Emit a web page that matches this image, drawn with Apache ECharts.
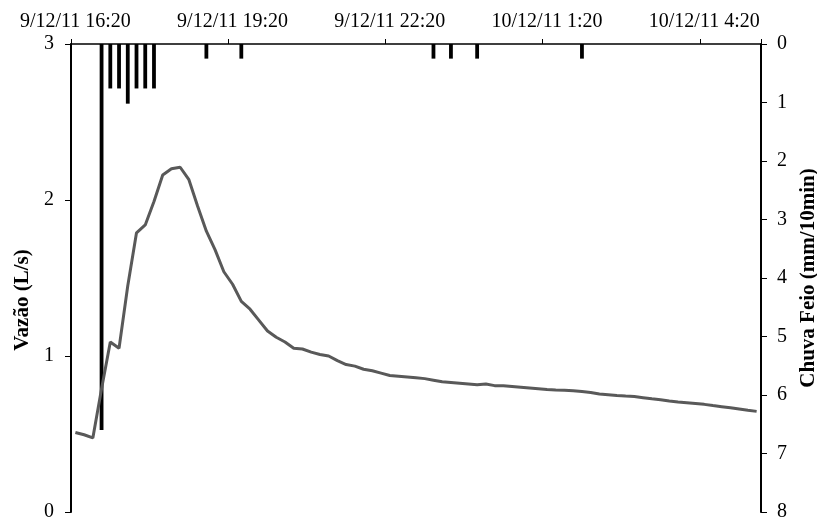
<!DOCTYPE html>
<html>
<head>
<meta charset="utf-8">
<script src="https://cdn.jsdelivr.net/npm/echarts@6/dist/echarts.min.js"></script>
<style>html,body{margin:0;padding:0;background:#fff}#c{width:817px;height:519px}</style>
</head>
<body>
<div id="c"></div>
<script>
var categories = [
"9/12/11 16:20","9/12/11 16:30","9/12/11 16:40","9/12/11 16:50","9/12/11 17:00","9/12/11 17:10",
"9/12/11 17:20","9/12/11 17:30","9/12/11 17:40","9/12/11 17:50","9/12/11 18:00","9/12/11 18:10",
"9/12/11 18:20","9/12/11 18:30","9/12/11 18:40","9/12/11 18:50","9/12/11 19:00","9/12/11 19:10",
"9/12/11 19:20","9/12/11 19:30","9/12/11 19:40","9/12/11 19:50","9/12/11 20:00","9/12/11 20:10",
"9/12/11 20:20","9/12/11 20:30","9/12/11 20:40","9/12/11 20:50","9/12/11 21:00","9/12/11 21:10",
"9/12/11 21:20","9/12/11 21:30","9/12/11 21:40","9/12/11 21:50","9/12/11 22:00","9/12/11 22:10",
"9/12/11 22:20","9/12/11 22:30","9/12/11 22:40","9/12/11 22:50","9/12/11 23:00","9/12/11 23:10",
"9/12/11 23:20","9/12/11 23:30","9/12/11 23:40","9/12/11 23:50","10/12/11 0:00","10/12/11 0:10",
"10/12/11 0:20","10/12/11 0:30","10/12/11 0:40","10/12/11 0:50","10/12/11 1:00","10/12/11 1:10",
"10/12/11 1:20","10/12/11 1:30","10/12/11 1:40","10/12/11 1:50","10/12/11 2:00","10/12/11 2:10",
"10/12/11 2:20","10/12/11 2:30","10/12/11 2:40","10/12/11 2:50","10/12/11 3:00","10/12/11 3:10",
"10/12/11 3:20","10/12/11 3:30","10/12/11 3:40","10/12/11 3:50","10/12/11 4:00","10/12/11 4:10",
"10/12/11 4:20","10/12/11 4:30","10/12/11 4:40","10/12/11 4:50","10/12/11 5:00","10/12/11 5:10",
"10/12/11 5:20"
];

var vazao = [
0.51,0.495,0.475,0.79,1.09,1.05,1.45,1.79,1.84,1.99,2.16,2.20,
2.21,2.13,1.96,1.80,1.68,1.54,1.46,1.35,1.30,1.23,1.16,1.12,
1.09,1.05,1.045,1.025,1.01,1.00,0.97,0.945,0.935,0.915,0.905,0.89,
0.875,0.87,0.865,0.86,0.855,0.845,0.835,0.83,0.825,0.82,0.815,0.82,
0.81,0.81,0.805,0.80,0.795,0.79,0.785,0.782,0.78,0.777,0.772,0.766,
0.757,0.752,0.747,0.743,0.740,0.733,0.726,0.720,0.712,0.705,0.700,0.695,
0.690,0.682,0.675,0.668,0.660,0.652,0.645
];

var chuva = [
0,0,0,6.6,0.76,0.76,1.02,0.76,0.76,0.76,0,0,
0,0,0,0.25,0,0,0,0.25,0,0,0,0,
0,0,0,0,0,0,0,0,0,0,0,0,
0,0,0,0,0,0.25,0,0.25,0,0,0.25,0,
0,0,0,0,0,0,0,0,0,0,0.25,0,
0,0,0,0,0,0,0,0,0,0,0,0,
0,0,0,0,0,0,0
];

var FONT = "Liberation Serif";
var chart = echarts.init(document.getElementById('c'));
chart.setOption({
  animation: false,
  backgroundColor: '#ffffff',
  grid: {left: 71, right: 56, top: 44, bottom: 7, containLabel: false, outerBoundsMode: 'none'},
  xAxis: {
    type: 'category',
    position: 'top',
    data: categories,
    boundaryGap: true,
    axisLine: {onZero: false, lineStyle: {color: '#000', width: 1.5}},
    axisTick: {show: true, interval: 17, length: 5, inside: false, lineStyle: {color: '#000', width: 1}},
    axisLabel: {interval: 17, fontFamily: FONT, fontSize: 20, color: '#000', margin: 12},
    splitLine: {show: false}
  },
  yAxis: [
    {
      type: 'value', position: 'left', min: 0, max: 3, interval: 1,
      name: 'Vazão (L/s)', nameLocation: 'middle', nameGap: 38, nameRotate: 90,
      nameTextStyle: {fontFamily: FONT, fontSize: 21, fontWeight: 'bold', color: '#000', padding: [0, 44, 0, 0]},
      axisLine: {show: true, onZero: false, lineStyle: {color: '#000', width: 2}},
      axisTick: {show: true, length: 6, lineStyle: {color: '#000', width: 1}},
      axisLabel: {fontFamily: FONT, fontSize: 20, color: '#000', margin: 17},
      splitLine: {show: false}
    },
    {
      type: 'value', position: 'right', min: 0, max: 8, interval: 1, inverse: true,
      name: 'Chuva Feio (mm/10min)', nameLocation: 'middle', nameGap: 27, nameRotate: 90,
      nameTextStyle: {fontFamily: FONT, fontSize: 21, fontWeight: 'bold', color: '#000'},
      axisLine: {show: true, onZero: false, lineStyle: {color: '#000', width: 2}},
      axisTick: {show: true, length: 6, lineStyle: {color: '#000', width: 1}},
      axisLabel: {fontFamily: FONT, fontSize: 20, color: '#000', margin: 16},
      splitLine: {show: false}
    }
  ],
  series: [
    {
      type: 'bar', name: 'Chuva', yAxisIndex: 1, data: chuva,
      barWidth: 3.8, itemStyle: {color: '#000'}, z: 2
    },
    {
      type: 'line', name: 'Vazão', yAxisIndex: 0, data: vazao,
      symbol: 'none', lineStyle: {color: '#595959', width: 3}, itemStyle: {color: '#595959'}, z: 3
    }
  ]
});
</script>
</body>
</html>
